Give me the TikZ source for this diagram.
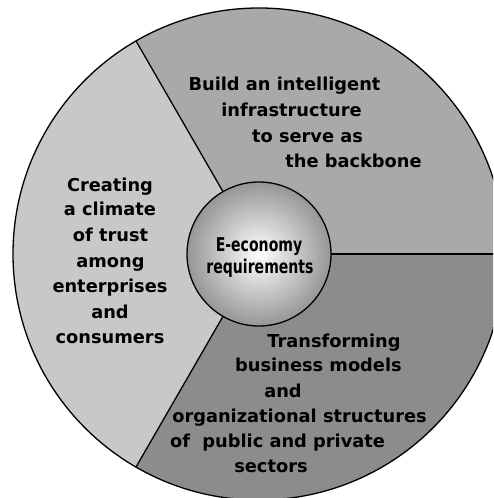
\documentclass[tikz,border=0pt]{standalone}
\usepackage{fontspec}
\setmainfont{DejaVu Sans}
\newfontfamily\condfont{DejaVu Sans}[FakeStretch=0.74]
\definecolor{secA}{RGB}{169,169,169}
\definecolor{secB}{RGB}{200,200,200}
\definecolor{secC}{RGB}{140,140,140}
\definecolor{coreEdge}{RGB}{150,150,150}
\begin{document}
\begin{tikzpicture}[x=1pt,y=1pt,
  edge/.style={draw=black, line width=1.3pt},
  lbl/.style={font=\bfseries\fontsize{17.8}{20}\selectfont, anchor=base, inner sep=0pt},
  corelbl/.style={font=\condfont\bfseries\fontsize{19}{21}\selectfont, anchor=base, inner sep=0pt}]
\useasboundingbox (0,0) rectangle (493,-498);
\clip (0,0) rectangle (493,-498);
\coordinate (O) at (259,-254);
% sectors
\fill[secA] (O) -- ++(0:246) arc[start angle=0, end angle=120, radius=246] -- cycle;
\fill[secB] (O) -- ++(120:246) arc[start angle=120, end angle=240, radius=246] -- cycle;
\fill[secC] (O) -- ++(240:246) arc[start angle=240, end angle=360, radius=246] -- cycle;
\draw[edge] (O) circle[radius=246];
\draw[edge] (O) -- ++(0:246);
\draw[edge] (O) -- ++(120:246);
\draw[edge] (O) -- ++(240:246);
% core
\node[circle, edge, minimum size=144pt, inner sep=0pt, inner color=white, outer color=coreEdge] (core) at (O) {};
\node[corelbl] (c1) at (259,-251) {E-economy};
\node[corelbl] (c2) at (260,-273) {requirements};
% top-right
\node[lbl] (t1) at (284.5,-90) {Build an intelligent};
\node[lbl] (t2) at (291.5,-116) {infrastructure};
\node[lbl] (t3) at (307.5,-142) {to serve as};
\node[lbl] (t4) at (353.5,-167) {the backbone};
% left
\node[lbl] (l1) at (110,-191) {Creating};
\node[lbl] (l2) at (110,-215) {a climate};
\node[lbl] (l3) at (110.5,-241) {of trust};
\node[lbl] (l4) at (110.5,-267) {among};
\node[lbl] (l5) at (110,-292) {enterprises};
\node[lbl] (l6) at (110,-318) {and};
\node[lbl] (l7) at (110,-343) {consumers};
% bottom-right
\node[lbl] (b1) at (334,-347) {Transforming};
\node[lbl] (b2) at (318.5,-371) {business models};
\node[lbl] (b3) at (283,-397) {and};
\node[lbl] (b4) at (299.5,-422) {organizational structures};
\node[lbl] (b5) at (277.5,-447) {of\ \ public and private};
\node[lbl] (b6) at (271,-472) {sectors};
\end{tikzpicture}
\end{document}
